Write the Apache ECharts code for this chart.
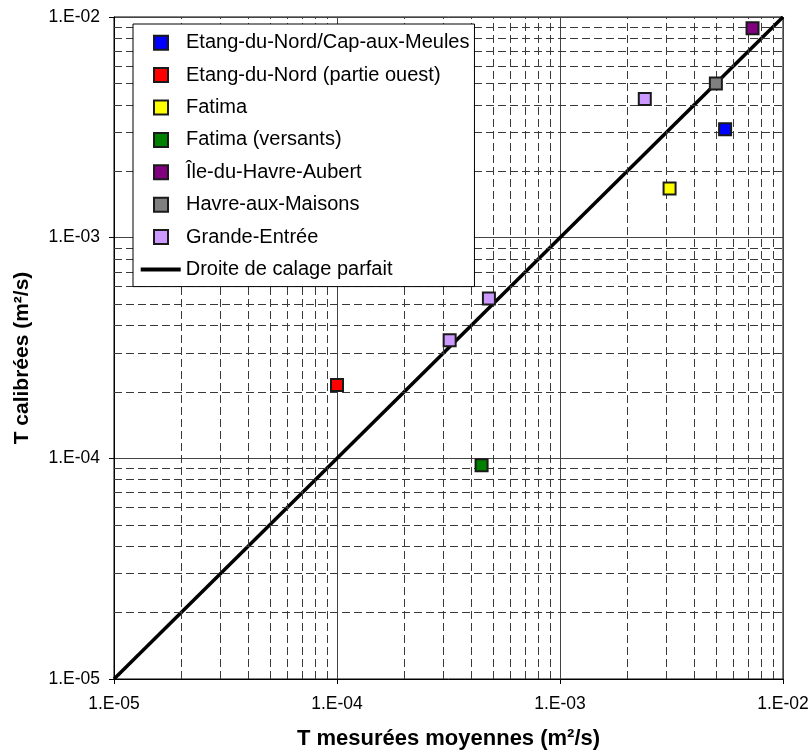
<!DOCTYPE html>
<html>
<head>
<meta charset="utf-8">
<script src="https://cdn.jsdelivr.net/npm/echarts@6/dist/echarts.min.js"></script>
<style>
html,body{margin:0;padding:0;background:#fff;}
#chart{width:812px;height:755px;}
</style>
</head>
<body>
<div id="chart"></div>
<script>
// ---- Data ----
const seriesNames = [
  'Etang-du-Nord/Cap-aux-Meules',
  'Etang-du-Nord (partie ouest)',
  'Fatima',
  'Fatima (versants)',
  'Île-du-Havre-Aubert',
  'Havre-aux-Maisons',
  'Grande-Entrée'
];
const seriesColors = ['#0000FF','#FF0000','#FFFF00','#008000','#800080','#808080','#CC99FF'];
const etangCapMeules = [[5.5e-3, 3.1e-3]];
const etangOuest = [[1.0e-4, 2.15e-4]];
const fatima = [[3.1e-3, 1.67e-3]];
const fatimaVersants = [[4.45e-4, 9.3e-5]];
const ileHavreAubert = [[7.3e-3, 8.9e-3]];
const havreMaisons = [[5.0e-3, 5.0e-3]];
const grandeEntree = [[3.2e-4, 3.43e-4], [4.8e-4, 5.3e-4], [2.4e-3, 4.25e-3]];
const seriesData = [etangCapMeules, etangOuest, fatima, fatimaVersants, ileHavreAubert, havreMaisons, grandeEntree];

const lineName = 'Droite de calage parfait';
const perfectLine = [[1e-5, 1e-5], [1e-2, 1e-2]];

const axisMin = 1e-5;
const axisMax = 1e-2;
const tickLabels = ['1.E-05', '1.E-04', '1.E-03', '1.E-02'];
const minorGrid = [
  2e-5, 3e-5, 4e-5, 5e-5, 6e-5, 7e-5, 8e-5, 9e-5,
  2e-4, 3e-4, 4e-4, 5e-4, 6e-4, 7e-4, 8e-4, 9e-4,
  2e-3, 3e-3, 4e-3, 5e-3, 6e-3, 7e-3, 8e-3, 9e-3
];

// ---- Chart ----
const FONT = '"Liberation Sans", Arial, sans-serif';
function fmt(v) {
  const e = Math.round(Math.log10(v));
  const idx = e + 5;
  return tickLabels[idx] !== undefined ? tickLabels[idx] : '';
}

const chart = echarts.init(document.getElementById('chart'), null, {renderer: 'canvas'});

const scatterSeries = seriesNames.map((n, i) => ({
  name: n,
  type: 'scatter',
  data: seriesData[i],
  symbol: 'rect',
  symbolSize: 12,
  itemStyle: {color: seriesColors[i], borderColor: '#1a1a1a', borderWidth: 2, opacity: 1},
  z: 5
}));

const minorLines = minorGrid.map(v => [{coord: [v, axisMin]}, {coord: [v, axisMax]}])
  .concat(minorGrid.map(v => [{coord: [axisMin, v]}, {coord: [axisMax, v]}]));

const option = {
  backgroundColor: '#fff',
  animation: false,
  textStyle: {fontFamily: FONT, color: '#000'},
  grid: {left: 114, right: 29, top: 17, bottom: 74, show: true, borderColor: '#000', borderWidth: 1, backgroundColor: 'transparent'},
  xAxis: {
    type: 'log', logBase: 10, min: axisMin, max: axisMax, interval: 1,
    axisLine: {show: true, lineStyle: {color: '#000', width: 1}},
    axisTick: {show: true, length: 5, lineStyle: {color: '#000'}},
    axisLabel: {formatter: fmt, fontSize: 17.5, color: '#000', margin: 16, fontFamily: FONT},
    splitLine: {show: true, lineStyle: {color: '#444', width: 1}},
    name: 'T mesurées moyennes (m²/s)', nameLocation: 'middle', nameGap: 49,
    nameTextStyle: {fontSize: 22, fontWeight: 'bold', color: '#000', fontFamily: FONT}
  },
  yAxis: {
    type: 'log', logBase: 10, min: axisMin, max: axisMax, interval: 1,
    axisLine: {show: true, lineStyle: {color: '#000', width: 1}},
    axisTick: {show: true, length: 5, lineStyle: {color: '#000'}},
    axisLabel: {formatter: fmt, fontSize: 17.5, color: '#000', margin: 14, fontFamily: FONT},
    splitLine: {show: true, lineStyle: {color: '#444', width: 1}},
    name: 'T calibrées (m²/s)', nameLocation: 'middle', nameGap: 81, nameRotate: 90,
    nameTextStyle: {fontSize: 21, fontWeight: 'bold', color: '#000', fontFamily: FONT, padding: [0, 20, 0, 0]}
  },
  legend: [
    {
      data: seriesNames.map(n => ({name: n, icon: 'rect'})),
      orient: 'vertical', left: 133, top: 24,
      itemWidth: 14, itemHeight: 14, itemGap: 12.4,
      padding: [8.7, 5, 39.5, 20],
      backgroundColor: '#fff', borderColor: '#000', borderWidth: 1,
      itemStyle: {borderColor: '#1a1a1a', borderWidth: 2},
      textStyle: {fontSize: 20, lineHeight: 20, color: '#000', fontFamily: FONT, padding: [0, 0, 0, 13]},
      selectedMode: false, z: 10
    },
    {
      data: [{name: lineName, icon: 'rect'}],
      orient: 'vertical', left: 140.7, top: 259.6,
      itemWidth: 40, itemHeight: 4, itemGap: 0, padding: 0,
      itemStyle: {color: '#000', borderWidth: 0},
      textStyle: {fontSize: 20, lineHeight: 20, color: '#000', fontFamily: FONT},
      selectedMode: false, z: 11
    }
  ],
  series: [
    {
      name: 'minorGrid', type: 'line', data: [], silent: true, z: 1,
      showSymbol: false, symbol: 'none',
      markLine: {
        silent: true, symbol: 'none', animation: false,
        label: {show: false},
        lineStyle: {color: '#3a3a3a', width: 1, type: [8, 4], opacity: 1},
        emphasis: {disabled: true},
        data: minorLines
      }
    },
    {
      name: lineName, type: 'line', data: perfectLine, showSymbol: false, symbol: 'none',
      lineStyle: {color: '#000', width: 3.5}, itemStyle: {color: '#000'}, z: 3, silent: true
    }
  ].concat(scatterSeries)
};
chart.setOption(option);
</script>
</body>
</html>
